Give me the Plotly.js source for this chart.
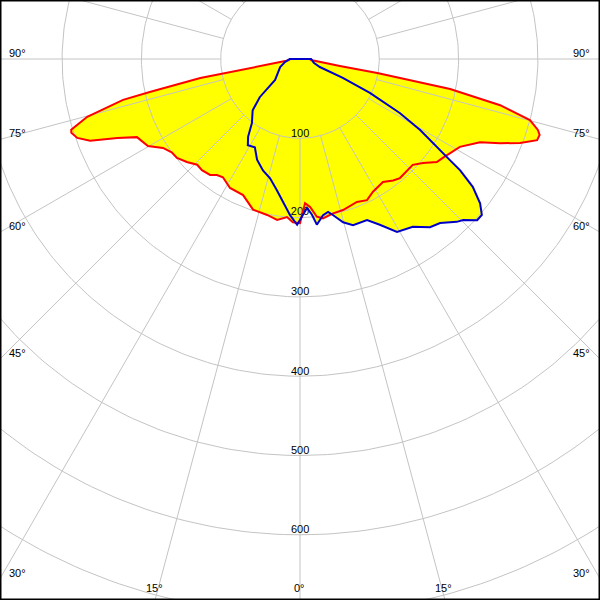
<!DOCTYPE html>
<html><head><meta charset="utf-8">
<script src="https://cdn.plot.ly/plotly-3.0.1.min.js"></script>
<style>html,body{margin:0;padding:0;background:#fff;overflow:hidden}#chart{width:600px;height:600px}</style>
</head><body><div id="chart"></div>
<script>
// Luminous intensity (cd/klm) vs gamma angle (deg); negative gamma = left half of the plane
const redGamma = [-90,-85,-82,-79.8,-79.2,-77.6,-77,-74.8,-72.8,-72.1,-70.5,-68.7,-66.6,-64.4,-62.1,-60.2,-57,-54,-51.2,-47.7,-44.2,-41.4,-37.8,-35.6,-33.1,-28.5,-22.7,-17.3,-11.9,-8.1,-4.7,-2.5,0,2,3.9,6.1,8.2,12.1,15.9,21.7,25.4,28.8,34,37.5,40,46.8,49.8,53,55.3,61.2,65.2,67.2,69.1,71.1,72.4,73.4,75.1,77,78.7,79.2,79.7,80.1,81,85,90];
const redIntensity = [12,14,19,64,128,194,229,278,302,303,298,284,251,228,224,221,206,200,199,193,186,187,185,180,178,185,186,199,201,205,200,206,207,182,187,200,203,199,198,194,197,191,187,193,196,195,203,216,219,230,250,274,297,316,317,313,300,259,193,128,99,51,17,14,12];

const blueGamma = [-90,-85,-79,-68,-50,-47.8,-46.5,-42.7,-36.9,-33.7,-31.2,-27.1,-23.1,-18.4,-14.1,-10,-7.3,-3.7,-1,0.7,2.7,4.4,5.8,8.4,10.4,11.9,14.8,17.7,22.6,25.7,29.3,33.9,37.7,40.5,43.9,45.4,47.7,49.4,51.3,53.5,55.2,56,57,57.7,59.4,61.6,64.1,66.2,68,75,85,90];
const blueIntensity = [14,15,19,27,41,54,70,88,101,118,127,125,138,148,155,168,179,197,209,199,188,197,210,199,196,201,213,220,220,232,250,255,268,272,285,289,302,302,291,271,246,228,210,198,176,143,98,59,27,18,15,14];

const ringValues = [100,200,300,400,500,600,700,800,900];
const ringLabels = ['100','200','300','400','500','600'];
const hiddenRingLabel = '200';   // sits under the curves
const spokeStep = 15;
const sideAngleLabels = [90,75,60,45,30];
const bottomAngleLabels = [-15,0,15];

const xRange = [-378.3, 378.3];
const yRange = [-682.2, 74.4];

const rad = d => d*Math.PI/180;
const px = (g,r) => r*Math.sin(rad(g));
const py = (g,r) => -r*Math.cos(rad(g));

function curve(gam, val){
  const x = gam.map((g,i)=>px(g,val[i]));
  const y = gam.map((g,i)=>py(g,val[i]));
  x.push(x[0]); y.push(y[0]);   // close the outline across the top
  return {x, y};
}
const red = curve(redGamma, redIntensity);
const blue = curve(blueGamma, blueIntensity);

// grid rings
const rx=[], ry=[];
ringValues.forEach(r=>{
  for(let a=0;a<=360;a+=1){ rx.push(px(a,r)); ry.push(py(a,r)); }
  rx.push(null); ry.push(null);
});
// spokes starting at first ring
const sx=[], sy=[];
for(let a=0;a<360;a+=spokeStep){
  sx.push(px(a,ringValues[0]), px(a,1000), null);
  sy.push(py(a,ringValues[0]), py(a,1000), null);
}
const gridColor = '#c4c4c4';
const FAMILY = 'Liberation Sans, Arial, sans-serif';
const mkFont = () => ({family:FAMILY, size:11, color:'#000000'});
const unitPerPx = (xRange[1]-xRange[0])/600;
const labelY = t => -Number(t)+5.5*unitPerPx;

const traces = [
  {x:red.x, y:red.y, mode:'lines', fill:'toself', fillcolor:'#ffff00', line:{width:0}, hoverinfo:'skip'},
  {x:blue.x, y:blue.y, mode:'lines', fill:'toself', fillcolor:'#ffff00', line:{width:0}, hoverinfo:'skip'},
  {x:rx, y:ry, mode:'lines', line:{color:gridColor, width:1}, hoverinfo:'skip'},
  {x:sx, y:sy, mode:'lines', line:{color:gridColor, width:1}, hoverinfo:'skip'},
  {x:[0], y:[labelY(hiddenRingLabel)], text:[hiddenRingLabel], mode:'text',
   textposition:'middle center', textfont:mkFont(), hoverinfo:'skip'},
  {x:red.x, y:red.y, mode:'lines', line:{color:'#ff0000', width:2}, hoverinfo:'skip'},
  {x:blue.x, y:blue.y, mode:'lines', line:{color:'#0000c8', width:2}, hoverinfo:'skip'}
];

const annotations = [];
ringLabels.filter(t=>t!==hiddenRingLabel).forEach(t=>{
  annotations.push({x:0, y:labelY(t), xref:'x', yref:'y', text:t, showarrow:false,
    xanchor:'center', yanchor:'middle', font:mkFont()});
});
sideAngleLabels.forEach(g=>{
  const yy = g===90 ? 0 : -xRange[1]/Math.tan(rad(g));
  annotations.push({x:xRange[0], y:yy, xref:'x', yref:'y', text:g+'°', showarrow:false,
    xanchor:'left', yanchor:'middle', xshift:7, yshift:6, font:mkFont()});
  annotations.push({x:xRange[1], y:yy, xref:'x', yref:'y', text:g+'°', showarrow:false,
    xanchor:'right', yanchor:'middle', xshift:-8, yshift:6, font:mkFont()});
});
bottomAngleLabels.forEach(g=>{
  annotations.push({x:-yRange[0]*Math.tan(rad(g)), y:yRange[0], xref:'x', yref:'y', text:Math.abs(g)+'°',
    showarrow:false, xanchor:'center', yanchor:'middle', xshift:-1, yshift:12, font:mkFont()});
});

const layout = {
  width:600, height:600, margin:{l:0,r:0,t:0,b:0},
  font:{family:FAMILY, size:11, color:'#000000'},
  paper_bgcolor:'#fff', plot_bgcolor:'#fff', showlegend:false,
  xaxis:{range:xRange, visible:false, fixedrange:true},
  yaxis:{range:yRange, visible:false, fixedrange:true},
  annotations:annotations,
  shapes:[{type:'rect', xref:'paper', yref:'paper', x0:0, x1:1, y0:0, y1:1, line:{color:'#000', width:3}, layer:'above'}]
};
Plotly.newPlot('chart', traces, layout, {staticPlot:true, displayModeBar:false});
</script></body></html>
